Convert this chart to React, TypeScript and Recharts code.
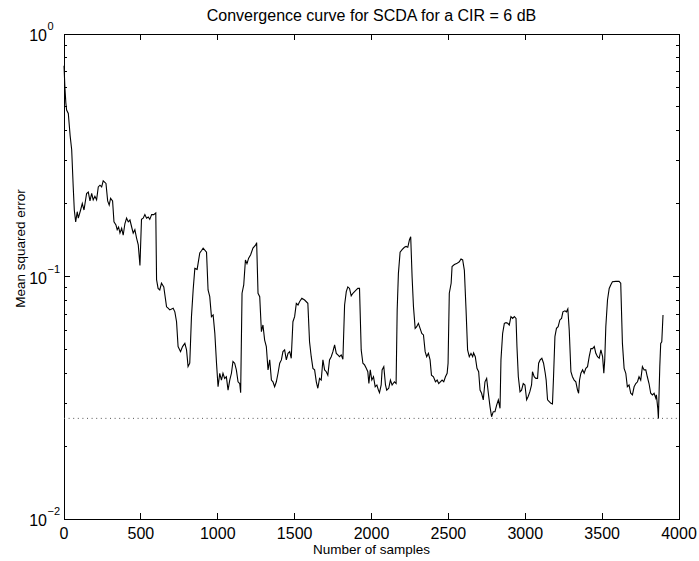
import React from 'react';
import { LineChart, Line, XAxis, YAxis, ReferenceLine, ReferenceArea, Label } from 'recharts';

// sample index (x) and MSE
const samples = [
  0, 6, 12, 17, 28, 40, 50, 60, 67, 76, 86, 93, 108, 119, 130, 147, 158, 169, 180, 190,
  201, 212, 223, 234, 245, 255, 273, 284, 294, 303, 316, 325, 338, 346, 355, 364, 375, 385, 396, 407,
  418, 429, 440, 450, 461, 472, 483, 494, 504, 515, 526, 537, 548, 558, 570, 584, 597, 602, 612, 623,
  634, 649, 667, 677, 688, 710, 721, 732, 742, 758, 771, 786, 797, 807, 818, 829, 840, 851, 866, 883,
  895, 905, 927, 937, 948, 959, 970, 981, 992, 1002, 1013, 1024, 1034, 1045, 1056, 1067, 1078, 1089, 1099, 1110,
  1121, 1132, 1143, 1149, 1158, 1169, 1180, 1190, 1201, 1214, 1229, 1247, 1253, 1262, 1273, 1284, 1294, 1305, 1316, 1327,
  1338, 1349, 1359, 1370, 1381, 1392, 1403, 1414, 1424, 1435, 1446, 1457, 1468, 1478, 1489, 1500, 1511, 1522, 1532, 1547,
  1565, 1586, 1597, 1608, 1619, 1630, 1641, 1651, 1662, 1673, 1684, 1695, 1706, 1716, 1727, 1738, 1749, 1760, 1771, 1781,
  1792, 1803, 1814, 1825, 1836, 1846, 1857, 1868, 1879, 1896, 1911, 1922, 1933, 1944, 1955, 1966, 1976, 1983, 1992, 2002,
  2013, 2024, 2035, 2045, 2052, 2063, 2069, 2080, 2091, 2099, 2112, 2123, 2134, 2149, 2160, 2167, 2175, 2186, 2199, 2214,
  2225, 2236, 2247, 2255, 2264, 2273, 2284, 2294, 2305, 2316, 2327, 2338, 2349, 2359, 2370, 2381, 2390, 2403, 2416, 2427,
  2437, 2448, 2459, 2470, 2481, 2492, 2498, 2506, 2518, 2524, 2539, 2554, 2571, 2582, 2593, 2604, 2615, 2625, 2636, 2647,
  2658, 2664, 2675, 2686, 2697, 2706, 2716, 2727, 2738, 2749, 2760, 2771, 2781, 2792, 2803, 2814, 2825, 2836, 2842, 2853,
  2864, 2875, 2886, 2896, 2907, 2918, 2929, 2940, 2946, 2955, 2966, 2976, 2987, 2998, 3009, 3019, 3030, 3041, 3047, 3058,
  3069, 3080, 3087, 3097, 3108, 3119, 3130, 3136, 3145, 3156, 3167, 3177, 3184, 3193, 3203, 3214, 3225, 3236, 3245, 3258,
  3268, 3277, 3286, 3297, 3307, 3318, 3329, 3340, 3347, 3353, 3362, 3373, 3383, 3394, 3405, 3416, 3427, 3438, 3449, 3459,
  3470, 3481, 3492, 3503, 3511, 3517, 3524, 3535, 3546, 3556, 3567, 3589, 3610, 3621, 3632, 3643, 3654, 3664, 3675, 3686,
  3697, 3708, 3719, 3730, 3740, 3751, 3762, 3773, 3784, 3794, 3805, 3816, 3827, 3838, 3849, 3853, 3862, 3866, 3875, 3881,
  3888, 3896,
];

const mse = [
  0.74, 0.6, 0.52, 0.486, 0.47, 0.38, 0.333, 0.234, 0.188, 0.168, 0.185, 0.174, 0.188, 0.2, 0.188, 0.22, 0.223, 0.205, 0.22, 0.207,
  0.214, 0.207, 0.234, 0.238, 0.234, 0.248, 0.242, 0.205, 0.197, 0.21, 0.205, 0.168, 0.163, 0.156, 0.16, 0.151, 0.158, 0.148, 0.165, 0.174,
  0.168, 0.171, 0.16, 0.151, 0.156, 0.144, 0.135, 0.111, 0.172, 0.174, 0.18, 0.174, 0.176, 0.172, 0.18, 0.18, 0.183, 0.097, 0.0893, 0.088,
  0.0938, 0.0906, 0.075, 0.074, 0.0728, 0.074, 0.0715, 0.0651, 0.0514, 0.049, 0.0514, 0.053, 0.0498, 0.0425, 0.0439, 0.0683, 0.088, 0.108, 0.107, 0.125,
  0.128, 0.131, 0.126, 0.088, 0.0826, 0.0683, 0.0694, 0.0583, 0.0439, 0.0351, 0.0399, 0.0374, 0.0399, 0.038, 0.0386, 0.034, 0.0374, 0.0399, 0.0446, 0.0439,
  0.0412, 0.0368, 0.0362, 0.0332, 0.0853, 0.0923, 0.117, 0.113, 0.119, 0.123, 0.131, 0.135, 0.138, 0.0853, 0.0826, 0.0592, 0.0631, 0.0547, 0.0514, 0.0412,
  0.0453, 0.0374, 0.0368, 0.0351, 0.0368, 0.0399, 0.0439, 0.0453, 0.049, 0.0498, 0.0453, 0.0482, 0.049, 0.046, 0.0651, 0.0683, 0.0775, 0.0763, 0.0787, 0.0813,
  0.08, 0.0775, 0.0538, 0.0467, 0.0418, 0.0412, 0.0368, 0.0346, 0.038, 0.0374, 0.0453, 0.0412, 0.0405, 0.0392, 0.0453, 0.0467, 0.049, 0.0522, 0.0482, 0.0475,
  0.0467, 0.0475, 0.0456, 0.0763, 0.0866, 0.0906, 0.0893, 0.0832, 0.0853, 0.0874, 0.0893, 0.0893, 0.0498, 0.0439, 0.0432, 0.0418, 0.0405, 0.0362, 0.0412, 0.0374,
  0.0386, 0.0351, 0.0357, 0.034, 0.0332, 0.0357, 0.0412, 0.0425, 0.0357, 0.034, 0.0346, 0.0374, 0.0357, 0.0368, 0.0362, 0.0728, 0.103, 0.126, 0.129, 0.132,
  0.133, 0.132, 0.142, 0.146, 0.0998, 0.075, 0.0611, 0.0621, 0.0641, 0.0611, 0.0583, 0.0574, 0.049, 0.0467, 0.0482, 0.0453, 0.0392, 0.0386, 0.0368, 0.0374,
  0.0362, 0.0368, 0.0374, 0.0368, 0.0386, 0.0399, 0.0439, 0.0853, 0.0938, 0.11, 0.112, 0.113, 0.115, 0.118, 0.117, 0.106, 0.0728, 0.0498, 0.0467, 0.0482,
  0.0467, 0.0484, 0.0467, 0.0418, 0.0405, 0.034, 0.033, 0.031, 0.0368, 0.038, 0.033, 0.029, 0.0264, 0.0277, 0.0277, 0.0295, 0.031, 0.0286, 0.0453, 0.0583,
  0.0641, 0.0645, 0.0641, 0.0631, 0.0683, 0.0672, 0.0683, 0.0672, 0.0514, 0.0386, 0.0335, 0.034, 0.0362, 0.0357, 0.031, 0.032, 0.0335, 0.0357, 0.0405, 0.0386,
  0.038, 0.038, 0.0439, 0.0453, 0.046, 0.0439, 0.0399, 0.0374, 0.031, 0.0305, 0.03, 0.0298, 0.0386, 0.0565, 0.0611, 0.0621, 0.0662, 0.0672, 0.0715, 0.0722,
  0.0715, 0.0735, 0.0602, 0.0405, 0.0386, 0.0374, 0.0368, 0.034, 0.033, 0.0374, 0.0399, 0.0412, 0.0399, 0.0418, 0.0425, 0.0467, 0.0504, 0.0504, 0.0514, 0.0482,
  0.0467, 0.046, 0.0498, 0.0467, 0.0399, 0.0453, 0.0621, 0.08, 0.0893, 0.0923, 0.0952, 0.0955, 0.0955, 0.0938, 0.053, 0.0418, 0.0399, 0.0351, 0.0357, 0.033,
  0.0325, 0.0351, 0.0362, 0.0368, 0.0386, 0.0374, 0.0425, 0.0412, 0.0412, 0.0386, 0.0362, 0.033, 0.0325, 0.033, 0.0315, 0.0325, 0.0286, 0.026, 0.0425, 0.053,
  0.0538, 0.0694,
];

// dotted floor line
const mmseFloor = 0.026;

const xDomain = [0, 4000];
const yDomain = [0.01, 1];
const xTicks = [0, 500, 1000, 1500, 2000, 2500, 3000, 3500, 4000];
const yTicks = [
  0.01, 0.02, 0.03, 0.04, 0.05, 0.06, 0.07, 0.08, 0.09,
  0.1, 0.2, 0.3, 0.4, 0.5, 0.6, 0.7, 0.8, 0.9, 1,
];

const data = samples.map((n, i) => ({ n, mse: mse[i] }));

const FONT = '"Liberation Sans", Arial, Helvetica, sans-serif';

const isDecade = (v: number) => {
  const p = Math.log10(v);
  return Math.abs(p - Math.round(p)) < 1e-6;
};

const LeftTick = (props: any) => {
  const { x, y, payload } = props;
  const v = payload.value;
  const major = isDecade(v);
  const exp = Math.round(Math.log10(v));
  return (
    <g>
      <line x1={x} y1={y} x2={x + (major ? 6 : 3)} y2={y} stroke="#000" strokeWidth={1} shapeRendering="crispEdges" />
      {major && (
        <g fontFamily={FONT} fill="#000">
          <text x={x - 17} y={y + 7} textAnchor="end" fontSize={16}>10</text>
          <text x={x - 16.5} y={y - 4} textAnchor="start" fontSize={11}>
            {exp < 0 ? '\u2212' + Math.abs(exp) : String(exp)}
          </text>
        </g>
      )}
    </g>
  );
};

const RightTick = (props: any) => {
  const { x, y, payload } = props;
  const major = isDecade(payload.value);
  return (
    <line x1={x} y1={y} x2={x - (major ? 6 : 3)} y2={y} stroke="#000" strokeWidth={1} shapeRendering="crispEdges" />
  );
};

const BottomTick = (props: any) => {
  const { x, y, payload } = props;
  return (
    <g>
      <line x1={x} y1={y} x2={x} y2={y - 6} stroke="#000" strokeWidth={1} shapeRendering="crispEdges" />
      <text x={x} y={y + 20} textAnchor="middle" fontSize={16} fontFamily={FONT} fill="#000">
        {payload.value}
      </text>
    </g>
  );
};

const TopTick = (props: any) => {
  const { x, y } = props;
  return <line x1={x} y1={y} x2={x} y2={y + 6} stroke="#000" strokeWidth={1} shapeRendering="crispEdges" />;
};

const App = () => {
  return (
    <div style={{ position: 'absolute', left: 0, top: 0, width: 699, height: 561, background: '#fff' }}>
      <div
        style={{
          position: 'absolute',
          left: 64,
          width: 615,
          top: 6,
          textAlign: 'center',
          fontFamily: FONT,
          fontSize: 16,
          lineHeight: '20px',
          color: '#000',
        }}
      >
        Convergence curve for SCDA for a CIR = 6 dB
      </div>
      <LineChart width={699} height={561} data={data} margin={{ top: 33, right: 19, bottom: 0, left: 0 }}>
        <XAxis
          xAxisId="bottom"
          dataKey="n"
          type="number"
          domain={xDomain}
          ticks={xTicks}
          interval={0}
          height={42}
          tickSize={0}
          tickMargin={0}
          tickLine={false}
          axisLine={false}
          tick={<BottomTick />}
        >
          <Label
            value="Number of samples"
            position="insideBottom"
            offset={7}
            style={{ fontFamily: FONT, fontSize: 13.5, fill: '#000' }}
          />
        </XAxis>
        <XAxis
          xAxisId="top"
          orientation="top"
          dataKey="n"
          type="number"
          domain={xDomain}
          ticks={xTicks}
          interval={0}
          height={1}
          tickSize={0}
          tickMargin={0}
          tickLine={false}
          axisLine={false}
          tick={<TopTick />}
        />
        <YAxis
          yAxisId="left"
          type="number"
          scale="log"
          domain={yDomain}
          allowDataOverflow
          ticks={yTicks}
          interval={0}
          width={64}
          tickSize={0}
          tickMargin={0}
          tickLine={false}
          axisLine={false}
          tick={<LeftTick />}
        >
          <Label
            content={(p: any) => {
              const vb = p.viewBox || { x: 0, y: 34, width: 64, height: 485 };
              const cx = vb.x + 20;
              const cy = vb.y + vb.height / 2 - 28;
              return (
                <text
                  x={cx}
                  y={cy}
                  transform={`rotate(-90, ${cx}, ${cy})`}
                  textAnchor="middle"
                  dominantBaseline="central"
                  fontFamily={FONT}
                  fontSize={13.5}
                  fill="#000"
                >
                  Mean squared error
                </text>
              );
            }}
          />
        </YAxis>
        <YAxis
          yAxisId="right"
          orientation="right"
          type="number"
          scale="log"
          domain={yDomain}
          allowDataOverflow
          ticks={yTicks}
          interval={0}
          width={1}
          tickSize={0}
          tickMargin={0}
          tickLine={false}
          axisLine={false}
          tick={<RightTick />}
        />
        <ReferenceArea
          xAxisId="bottom"
          yAxisId="left"
          x1={xDomain[0]}
          x2={xDomain[1]}
          y1={yDomain[0]}
          y2={yDomain[1]}
          fill="none"
          fillOpacity={0}
          stroke="#000"
          strokeWidth={1}
          shapeRendering="crispEdges"
          ifOverflow="visible"
        />
        <ReferenceLine
          xAxisId="bottom"
          yAxisId="left"
          y={mmseFloor}
          stroke="#555"
          strokeDasharray="1 3.6"
        />
        <Line
          xAxisId="bottom"
          yAxisId="left"
          dataKey="mse"
          type="linear"
          stroke="#000"
          strokeWidth={1.1}
          dot={false}
          isAnimationActive={false}
        />
      </LineChart>
    </div>
  );
};

export default App;
